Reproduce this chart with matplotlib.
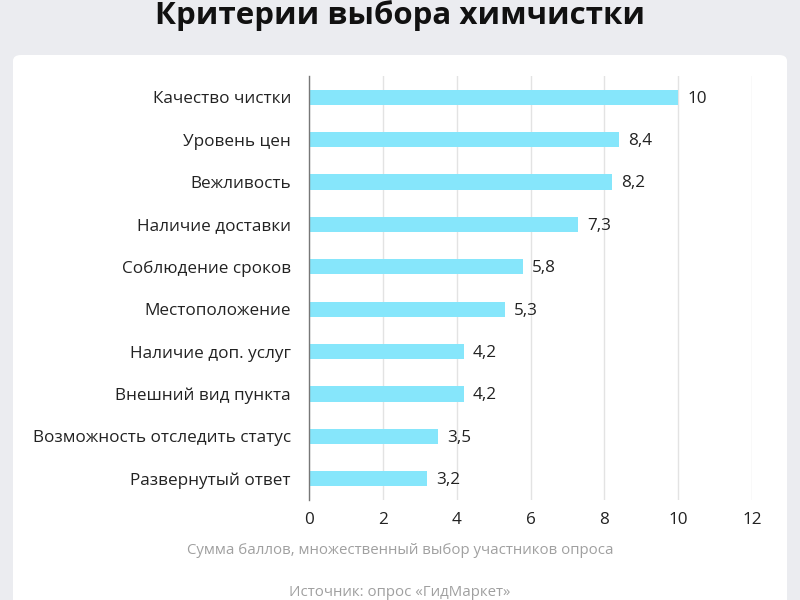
import matplotlib
matplotlib.use("Agg")
import matplotlib.pyplot as plt
from matplotlib.patches import FancyBboxPatch

categories = ["Качество чистки", "Уровень цен", "Вежливость", "Наличие доставки",
              "Соблюдение сроков", "Местоположение", "Наличие доп. услуг",
              "Внешний вид пункта", "Возможность отследить статус", "Развернутый ответ"]
values = [10, 8.4, 8.2, 7.3, 5.8, 5.3, 4.2, 4.2, 3.5, 3.2]
value_labels = ["10", "8,4", "8,2", "7,3", "5,8", "5,3", "4,2", "4,2", "3,5", "3,2"]
xticks = [0, 2, 4, 6, 8, 10, 12]

plt.rcParams['font.family'] = ['Open Sans', 'DejaVu Sans']

fig = plt.figure(figsize=(8, 6), dpi=100)
fig.patch.set_facecolor("#ebecf0")

card = FancyBboxPatch((13/800, -0.05), (787-13)/800, (600-55)/600 + 0.05,
                      boxstyle="round,pad=0,rounding_size=0.01",
                      transform=fig.transFigure, facecolor="white", edgecolor="none", zorder=-1)
fig.patches.append(card)

ax = fig.add_axes([309/800, 1-500/600, (752-309)/800, (500-76)/600])
ax.set_zorder(2)
ax.set_facecolor("none")
y = list(range(len(categories)))
ax.barh(y, values, height=0.36, color="#86e6fb", zorder=2)
for yi, v, lab in zip(y, values, value_labels):
    ax.annotate(lab, (v, yi), xytext=(6.5, -1), textcoords="offset points",
                va="center", ha="left", fontsize=12.3, color="#222222")
ax.set_yticks(y)
ax.set_yticklabels(categories, fontsize=12.3, color="#222222")
ax.set_ylim(len(categories)-0.5, -0.5)
ax.set_xlim(0, 12)
ax.set_xticks(xticks)
ax.set_xticklabels([str(t) for t in xticks], fontsize=12.3, color="#222222")
ax.grid(axis="x", color="#e3e3e3", linewidth=1, zorder=0)
ax.set_axisbelow(True)
for s in ["top", "right", "bottom"]:
    ax.spines[s].set_visible(False)
ax.spines["left"].set_color("#777777")
ax.spines["left"].set_linewidth(1)
ax.spines["left"].set_zorder(3)
ax.tick_params(axis="both", length=0)
ax.tick_params(axis="y", pad=13)
ax.tick_params(axis="x", pad=9)

fig.text(0.5, 1-551/600, "Сумма баллов, множественный выбор участников опроса",
         ha="center", va="center", fontsize=10.8, color="#a0a0a0")
fig.text(0.5, 1-593/600, "Источник: опрос «ГидМаркет»",
         ha="center", va="center", fontsize=10.8, color="#a0a0a0")
fig.text(0.5, 1-16/600, "Критерии выбора химчистки",
         ha="center", va="center", fontsize=22.5, fontweight="bold", color="#111111")

fig.savefig("out.png", dpi=100, facecolor=fig.get_facecolor())
